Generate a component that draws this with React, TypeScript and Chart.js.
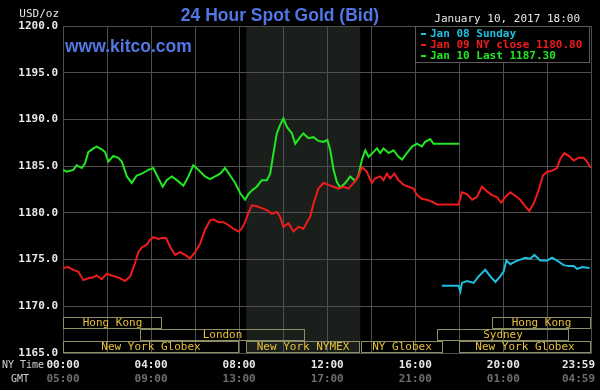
import { useEffect, useRef } from 'react';
import { Chart, registerables } from 'chart.js';

Chart.register(...registerables);

// ---- Data (NY time in decimal hours, price in USD/oz) ----
const sundayHours = [17.21, 17.97, 18.05, 18.12, 18.35, 18.65, 18.88, 19.18, 19.41, 19.64,
  19.86, 20.01, 20.14, 20.32, 20.55, 20.77, 21.0, 21.23, 21.41, 21.68,
  21.99, 22.21, 22.44, 22.74, 22.97, 23.2, 23.35, 23.58, 23.92];
const sundayPrices = [1172.2, 1172.2, 1171.6, 1172.5, 1172.7, 1172.5, 1173.2, 1173.9, 1173.2, 1172.6,
  1173.2, 1173.7, 1174.9, 1174.5, 1174.8, 1175.0, 1175.2, 1175.1, 1175.5, 1174.9,
  1174.9, 1175.2, 1174.9, 1174.4, 1174.3, 1174.3, 1174.0, 1174.2, 1174.1];

const closeHours = [0.0, 0.24, 0.47, 0.7, 0.92, 1.15, 1.38, 1.53, 1.76, 1.99,
  2.21, 2.36, 2.59, 2.82, 3.05, 3.27, 3.42, 3.58, 3.8, 3.95,
  4.1, 4.33, 4.49, 4.68, 4.86, 5.09, 5.32, 5.55, 5.77, 6.0,
  6.23, 6.45, 6.68, 6.83, 7.06, 7.29, 7.51, 7.74, 7.97, 8.12,
  8.27, 8.42, 8.58, 8.8, 9.03, 9.26, 9.49, 9.71, 9.86, 10.01,
  10.24, 10.47, 10.7, 10.92, 11.08, 11.23, 11.38, 11.6, 11.83, 12.06,
  12.29, 12.51, 12.74, 12.97, 13.2, 13.42, 13.58, 13.8, 14.03, 14.18,
  14.41, 14.56, 14.71, 14.86, 15.05, 15.24, 15.47, 15.7, 15.92, 16.08,
  16.3, 16.53, 16.76, 16.99, 17.97, 18.12, 18.35, 18.58, 18.8, 19.03,
  19.26, 19.49, 19.71, 19.9, 20.09, 20.32, 20.55, 20.77, 21.0, 21.18,
  21.38, 21.6, 21.8, 21.99, 22.21, 22.44, 22.59, 22.77, 22.97, 23.2,
  23.42, 23.65, 23.8, 23.98];
const closePrices = [1174.1, 1174.2, 1173.9, 1173.7, 1172.8, 1173.0, 1173.1, 1173.3, 1172.9, 1173.5,
  1173.3, 1173.2, 1173.0, 1172.7, 1173.2, 1174.6, 1175.8, 1176.3, 1176.6, 1177.1,
  1177.4, 1177.2, 1177.3, 1177.3, 1176.4, 1175.5, 1175.8, 1175.5, 1175.1, 1175.8,
  1176.7, 1178.2, 1179.2, 1179.3, 1179.0, 1179.0, 1178.7, 1178.3, 1178.0, 1178.3,
  1179.0, 1180.0, 1180.8, 1180.7, 1180.5, 1180.3, 1179.9, 1180.1, 1179.6, 1178.5,
  1178.9, 1178.0, 1178.5, 1178.3, 1179.0, 1179.6, 1181.0, 1182.6, 1183.2, 1183.0,
  1182.8, 1182.6, 1182.8, 1182.6, 1183.2, 1183.9, 1184.9, 1184.4, 1183.2, 1183.7,
  1183.9, 1183.5, 1184.2, 1183.7, 1184.2, 1183.5, 1183.0, 1182.8, 1182.6, 1181.9,
  1181.5, 1181.4, 1181.2, 1180.9, 1180.9, 1182.2, 1182.0, 1181.4, 1181.7, 1182.8,
  1182.3, 1181.9, 1181.7, 1181.1, 1181.7, 1182.2, 1181.8, 1181.4, 1180.7, 1180.2,
  1181.0, 1182.4, 1184.0, 1184.4, 1184.5, 1184.8, 1185.8, 1186.4, 1186.1, 1185.6,
  1185.9, 1185.9, 1185.5, 1184.8];

const lastHours = [0, 0.17, 0.47, 0.62, 0.85, 1.0, 1.15, 1.38, 1.53, 1.76,
  1.91, 2.06, 2.29, 2.51, 2.67, 2.9, 3.12, 3.35, 3.58, 3.73,
  3.88, 4.1, 4.33, 4.53, 4.71, 4.94, 5.17, 5.47, 5.7, 5.92,
  6.15, 6.45, 6.68, 6.91, 7.14, 7.36, 7.59, 7.82, 8.05, 8.27,
  8.42, 8.58, 8.8, 9.03, 9.26, 9.41, 9.56, 9.71, 9.86, 10.01,
  10.17, 10.4, 10.55, 10.77, 10.92, 11.15, 11.38, 11.6, 11.83, 12.01,
  12.14, 12.29, 12.44, 12.59, 12.82, 13.05, 13.27, 13.42, 13.58, 13.73,
  13.88, 14.1, 14.26, 14.41, 14.56, 14.79, 15.01, 15.24, 15.4, 15.62,
  15.85, 16.08, 16.3, 16.45, 16.68, 16.83, 18.0];
const lastPrices = [1184.6, 1184.4, 1184.6, 1185.1, 1184.8, 1185.3, 1186.5, 1186.9, 1187.1, 1186.8,
  1186.5, 1185.5, 1186.1, 1185.9, 1185.5, 1183.9, 1183.2, 1184.0, 1184.2, 1184.4,
  1184.6, 1184.8, 1183.7, 1182.8, 1183.5, 1183.9, 1183.5, 1182.9, 1183.9, 1185.1,
  1184.6, 1183.9, 1183.6, 1183.9, 1184.2, 1184.8, 1184.0, 1183.2, 1182.1, 1181.4,
  1182.0, 1182.4, 1182.8, 1183.5, 1183.5, 1184.2, 1186.4, 1188.5, 1189.4, 1190.1,
  1189.2, 1188.5, 1187.4, 1188.1, 1188.5, 1188.0, 1188.1, 1187.7, 1187.6, 1187.8,
  1186.7, 1184.6, 1183.3, 1182.7, 1183.2, 1183.9, 1183.4, 1184.0, 1185.7, 1186.7,
  1186.0, 1186.5, 1186.9, 1186.4, 1186.9, 1186.4, 1186.7, 1186.0, 1185.7, 1186.4,
  1187.1, 1187.4, 1187.1, 1187.6, 1187.9, 1187.4, 1187.4];

const seriesLabels = ['Jan 08 Sunday', 'Jan 09 NY close 1180.80', 'Jan 10 Last 1187.30'];
const seriesColors = ['#20bfe0', '#ee1c1c', '#22e622'];

// axes
const xMaxHour = 23.983;
const gridHours = [0, 2, 4, 6, 8, 10, 12, 14, 16, 18, 20, 22, 23.983];
const labelHours = [0, 4, 8, 12, 16, 20, 23.983];
const nyTimeLabels = ['00:00', '04:00', '08:00', '12:00', '16:00', '20:00', '23:59'];
const gmtLabels = ['05:00', '09:00', '13:00', '17:00', '21:00', '01:00', '04:59'];
const yMin = 1165;
const yMax = 1200;
const yStep = 5;

// market sessions (NY hours)
const sessionNames = ['Hong Kong', 'Hong Kong', 'London', 'Sydney', 'New York Globex', 'New York NYMEX', 'NY Globex', 'New York Globex'];
const sessionStart = [0, 19.5, 3.5, 17, 0, 8.33, 13.55, 18];
const sessionEnd = [4.5, 23.983, 11, 23, 8, 13.5, 17.25, 23.983];
const sessionRow = [0, 0, 1, 1, 2, 2, 2, 2];
const nymexStart = 8.33;
const nymexEnd = 13.5;

const titleText = '24 Hour Spot Gold (Bid)';
const siteText = 'www.kitco.com';
const dateText = 'January 10, 2017 18:00';
const unitText = 'USD/oz';

export default function App() {
  const ref = useRef<HTMLCanvasElement>(null);

  useEffect(() => {
    document.body.style.margin = '0';
    document.body.style.background = '#000';
    const canvas = ref.current!;
    const mono = '"DejaVu Sans Mono", monospace';
    const gridColor = '#4f4f4f';

    const decor = {
      id: 'decor',
      beforeDraw(chart: any) {
        const { ctx, chartArea: a, scales } = chart;
        const x = scales.x;
        ctx.save();
        ctx.fillStyle = '#000';
        ctx.fillRect(0, 0, chart.width, chart.height);
        const x1 = x.getPixelForValue(nymexStart);
        const x2 = x.getPixelForValue(nymexEnd);
        ctx.fillStyle = '#1b1f1b';
        ctx.fillRect(x1, a.top, x2 - x1, a.bottom - a.top);
        ctx.restore();
      },
      afterDraw(chart: any) {
        const { ctx, chartArea: a, scales } = chart;
        const x = scales.x;
        ctx.save();

        // sessions
        const rowH = 12;
        ctx.lineWidth = 1;
        ctx.strokeStyle = '#8e8e66';
        ctx.font = `11px ${mono}`;
        ctx.textAlign = 'center';
        ctx.textBaseline = 'middle';
        sessionNames.forEach((name, i) => {
          const top = Math.round(a.bottom - (3 - sessionRow[i]) * rowH);
          const x1 = Math.round(x.getPixelForValue(sessionStart[i]));
          const x2 = Math.round(x.getPixelForValue(sessionEnd[i]));
          ctx.strokeRect(x1 + 0.5, top + 0.5, x2 - x1 - 1, rowH - 1);
          ctx.fillStyle = '#e6c03a';
          ctx.fillText(name, (x1 + x2) / 2, top + rowH / 2 + 0.5);
        });

        // legend box
        const lx1 = Math.round(x.getPixelForValue(16));
        const lx2 = Math.round(a.right) - 1;
        const ly1 = Math.round(a.top);
        const ly2 = ly1 + 37;
        ctx.fillStyle = '#000';
        ctx.fillRect(lx1, ly1, lx2 - lx1, ly2 - ly1);
        ctx.strokeStyle = '#5a5a5a';
        ctx.strokeRect(lx1 + 0.5, ly1 + 0.5, lx2 - lx1 - 1, ly2 - ly1 - 1);
        ctx.font = `bold 11px ${mono}`;
        ctx.textAlign = 'left';
        ctx.textBaseline = 'alphabetic';
        seriesLabels.forEach((lab, i) => {
          const by = ly1 + 10.5 + i * 11.3;
          ctx.fillStyle = seriesColors[i];
          ctx.fillRect(lx1 + 6, Math.round(by - 4), 5, 2);
          ctx.fillText(lab, lx1 + 15, by);
        });

        // title & texts
        ctx.textBaseline = 'alphabetic';
        ctx.fillStyle = '#5177e4';
        ctx.font = 'bold 17.5px "Liberation Sans", Arial, sans-serif';
        ctx.textAlign = 'center';
        ctx.fillText(titleText, 280, 21);
        ctx.textAlign = 'left';
        ctx.fillText(siteText, 65, 52);

        ctx.fillStyle = '#e8e8e8';
        ctx.font = `11px ${mono}`;
        ctx.textAlign = 'right';
        ctx.fillText(dateText, 580, 22);
        ctx.fillText(unitText, 59, 17);

        ctx.fillStyle = '#cfcfcf';
        ctx.font = `10px ${mono}`;
        ctx.textAlign = 'left';
        ctx.fillText('NY Time', 2, 368);
        ctx.fillText('GMT', 11, 382);

        ctx.font = `bold 11px ${mono}`;
        labelHours.forEach((h, i) => {
          const px = x.getPixelForValue(h);
          const w = ctx.measureText(nyTimeLabels[i]).width;
          const cx = Math.min(px, chart.width - 5 - w / 2);
          ctx.textAlign = 'center';
          ctx.fillStyle = '#e8e8e8';
          ctx.fillText(nyTimeLabels[i], cx, 368);
          ctx.fillStyle = '#6e6e6e';
          ctx.fillText(gmtLabels[i], cx, 382);
        });
        ctx.restore();
      },
    };

    const mk = (hs: number[], ps: number[]) => hs.map((h, i) => ({ x: h, y: ps[i] }));
    const series = [mk(sundayHours, sundayPrices), mk(closeHours, closePrices), mk(lastHours, lastPrices)];

    const chart = new Chart(canvas, {
      type: 'line',
      data: {
        datasets: series.map((d, i) => ({
          label: seriesLabels[i],
          data: d,
          borderColor: seriesColors[i],
          backgroundColor: seriesColors[i],
          borderWidth: 2,
          pointRadius: 0,
          fill: false,
          tension: 0,
        })),
      },
      options: {
        animation: false,
        responsive: false,
        layout: { padding: { left: 0, right: 9, top: 26, bottom: 0 } },
        plugins: { legend: { display: false }, tooltip: { enabled: false }, title: { display: false } },
        scales: {
          x: {
            type: 'linear',
            min: 0,
            max: xMaxHour,
            afterBuildTicks: (s: any) => { s.ticks = gridHours.map((v) => ({ value: v })); },
            afterFit: (s: any) => { s.height = 37; },
            ticks: { display: false },
            grid: { color: gridColor, drawTicks: false },
            border: { color: gridColor },
          },
          y: {
            min: yMin,
            max: yMax,
            afterFit: (s: any) => { s.width = 63; },
            ticks: {
              stepSize: yStep,
              padding: 5,
              color: '#e8e8e8',
              font: { family: 'DejaVu Sans Mono', size: 11, weight: 'bold' },
              callback: (v: any) => Number(v).toFixed(1),
            },
            grid: { color: gridColor, drawTicks: false },
            border: { color: gridColor },
          },
        },
      },
      plugins: [decor],
    } as any);

    return () => chart.destroy();
  }, []);

  return <canvas ref={ref} width={600} height={390} style={{ display: 'block' }} />;
}
